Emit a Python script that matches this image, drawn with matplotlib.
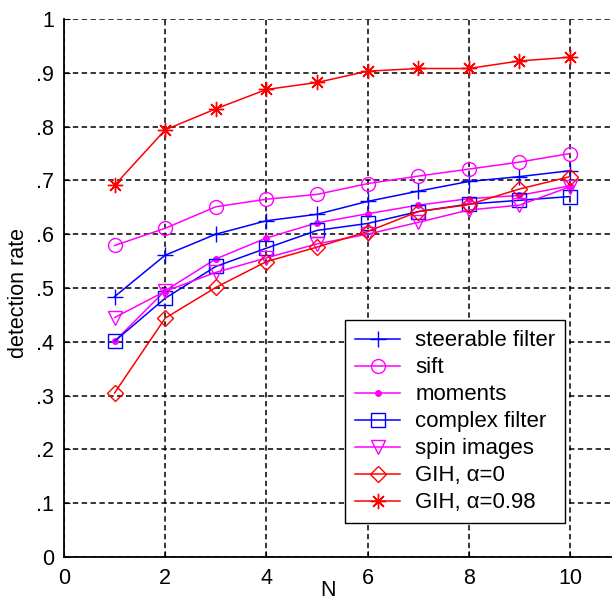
import matplotlib
matplotlib.use("Agg")
import matplotlib.pyplot as plt

plt.rcParams['font.family'] = ['Liberation Sans', 'DejaVu Sans']

N = [1, 2, 3, 4, 5, 6, 7, 8, 9, 10]
steerable = [0.484, 0.561, 0.600, 0.625, 0.637, 0.661, 0.680, 0.698, 0.707, 0.718]
sift = [0.579, 0.611, 0.651, 0.665, 0.674, 0.694, 0.708, 0.721, 0.734, 0.750]
moments = [0.401, 0.495, 0.554, 0.593, 0.621, 0.638, 0.654, 0.666, 0.672, 0.690]
complex_f = [0.401, 0.481, 0.540, 0.574, 0.607, 0.620, 0.642, 0.656, 0.663, 0.670]
spin = [0.445, 0.494, 0.529, 0.556, 0.582, 0.600, 0.622, 0.645, 0.654, 0.688]
gih0 = [0.305, 0.444, 0.501, 0.549, 0.576, 0.605, 0.642, 0.655, 0.684, 0.707]
gih98 = [0.691, 0.794, 0.833, 0.869, 0.882, 0.903, 0.908, 0.908, 0.922, 0.929]

labels = ['steerable filter', 'sift', 'moments', 'complex filter',
          'spin images', 'GIH, α=0', 'GIH, α=0.98']
yticks = [0, .1, .2, .3, .4, .5, .6, .7, .8, .9, 1]
ytick_labels = ['0', '.1', '.2', '.3', '.4', '.5', '.6', '.7', '.8', '.9', '1']
xticks = [0, 2, 4, 6, 8, 10]

FS = 15.5
W, H = 612, 602
fig = plt.figure(figsize=(W / 100, H / 100), dpi=100)
left = 64 / W
bottom = (H - 557) / H
top = 1 - 19 / H
width = 556.6 / W
ax = fig.add_axes([left, bottom, width, top - bottom])

series = [
    (steerable, 'blue', '+', 11, 'none'),
    (sift, 'magenta', 'o', 10, 'none'),
    (moments, 'magenta', '.', 8, 'magenta'),
    (complex_f, 'blue', 's', 10, 'none'),
    (spin, 'magenta', 'v', 10, 'none'),
    (gih0, 'red', 'D', 8, 'none'),
    (gih98, 'red', (8, 2, 0), 11, 'red'),
]
for (vals, col, mk, ms, mfc), lab in zip(series, labels):
    ax.plot(N, vals, color=col, marker=mk, markersize=ms, markerfacecolor=mfc,
            markeredgecolor=col, markeredgewidth=1.0, linewidth=1.1, label=lab)

ax.set_xlim(0, 11)
ax.set_ylim(0, 1)
ax.set_xticks(xticks)
ax.set_yticks(yticks)
ax.set_yticklabels(ytick_labels)
ax.tick_params(direction='in', length=4, labelsize=FS, color='black')
ax.tick_params(axis='y', pad=7)
ax.tick_params(axis='x', pad=8)
ax.grid(True, color='black', linestyle=(0, (3.5, 2.3)), linewidth=1.1)
ax.set_axisbelow(True)
for s in ['top', 'right']:
    ax.spines[s].set_visible(False)
for s in ['left', 'bottom']:
    ax.spines[s].set_linewidth(1.3)

ax.set_xlabel('N', fontsize=FS)
ax.xaxis.set_label_coords(0.474, -0.043)
ax.set_ylabel('detection rate', fontsize=FS)
ax.yaxis.set_label_coords(-0.063, 0.49)

leg = ax.legend(loc='upper right', bbox_to_anchor=(0.901, 0.44), borderaxespad=0,
                prop={'size': 16}, fancybox=False, framealpha=1, edgecolor='black',
                handlelength=2.0, handletextpad=0.7, labelspacing=0.27,
                borderpad=0.45)
leg.get_frame().set_linewidth(1.0)

fig.savefig('out.png', dpi=100)
